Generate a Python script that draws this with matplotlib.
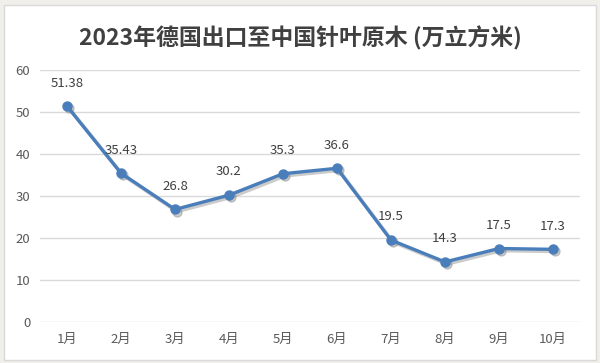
import numpy as np
import matplotlib.pyplot as plt
import matplotlib.transforms as mtransforms
from matplotlib.patches import Rectangle

plt.rcParams['font.family'] = ['Noto Sans CJK SC', 'DejaVu Sans']

# 数据
months = ['1月', '2月', '3月', '4月', '5月', '6月', '7月', '8月', '9月', '10月']
volume = [51.38, 35.43, 26.8, 30.2, 35.3, 36.6, 19.5, 14.3, 17.5, 17.3]
labels = ['51.38', '35.43', '26.8', '30.2', '35.3', '36.6', '19.5', '14.3', '17.5', '17.3']
yticks = [0, 10, 20, 30, 40, 50, 60]

fig = plt.figure(figsize=(6, 3.63), dpi=100)
fig.patch.set_facecolor('#f0efea')
# 白色图表区
fig.patches.append(Rectangle((4 / 600, 3 / 363), 592 / 600, 355 / 363,
                             transform=fig.transFigure, facecolor='white',
                             edgecolor='#d9d9d9', linewidth=1, zorder=-10))

ax = fig.add_axes([40 / 600, 41 / 363, 540 / 600, 252 / 363])
ax.set_facecolor('none')

x = np.arange(len(months))
# 阴影
shadow_tr = mtransforms.offset_copy(ax.transData, fig=fig, x=1.5, y=-1.5, units='points')
ax.plot(x, volume, color='#8c8c8c', alpha=0.45, linewidth=2.6, marker='o',
        markersize=6.5, transform=shadow_tr, zorder=2)
ax.plot(x, volume, color='#4a7ebb', linewidth=2.4, marker='o', markersize=6.5, zorder=3)

for xi, v, s in zip(x, volume, labels):
    ax.annotate(s, (xi, v), xytext=(0, 12), textcoords='offset points',
                ha='center', va='bottom', fontsize=9.5, color='#404040')

ax.set_xlim(-0.5, len(months) - 0.5)
ax.set_ylim(0, 60)
ax.set_yticks(yticks)
ax.set_xticks(x)
ax.set_xticklabels(months)
ax.tick_params(axis='both', length=0, labelsize=9.5, colors='#595959')
ax.tick_params(axis='y', pad=7)
ax.tick_params(axis='x', pad=8)
ax.grid(axis='y', color='#d9d9d9', linewidth=1)
ax.set_axisbelow(True)
for sp in ax.spines.values():
    sp.set_visible(False)

fig.text(0.5, 1 - 38 / 363, '2023年德国出口至中国针叶原木 (万立方米)',
         ha='center', va='center', fontsize=16.5, fontweight='bold', color='#404040')

fig.savefig('out.png', dpi=100, facecolor=fig.get_facecolor())
